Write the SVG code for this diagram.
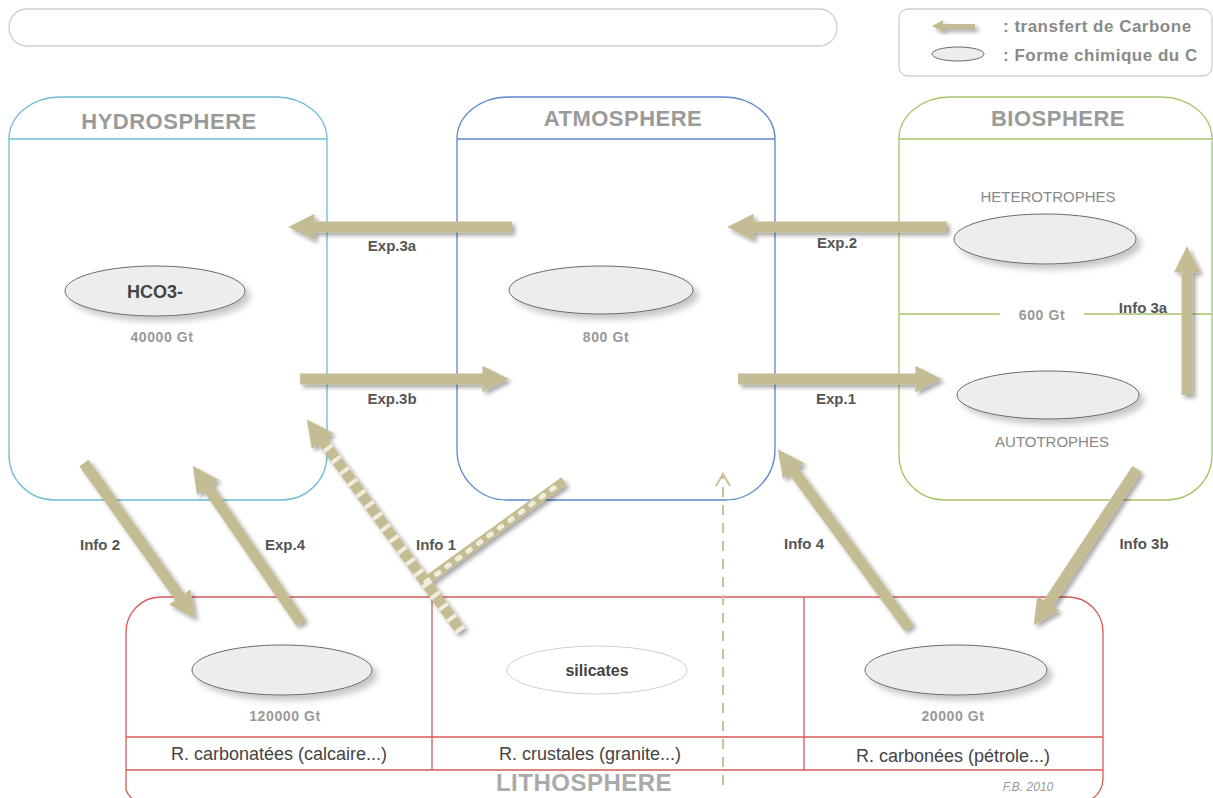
<svg xmlns="http://www.w3.org/2000/svg" width="1213" height="798" viewBox="0 0 1213 798">
<defs>
<style>
.box{fill:none;stroke-width:1.3}
.title{font-family:"Liberation Sans",Arial,sans-serif;font-weight:bold;font-size:22px;fill:#9a9a9a;text-anchor:middle;letter-spacing:0.5px}
.lbl{font-family:"Liberation Sans",Arial,sans-serif;font-weight:bold;font-size:15px;fill:#555;text-anchor:middle}
.gt{font-family:"Liberation Sans",Arial,sans-serif;font-weight:bold;font-size:14px;fill:#999;text-anchor:middle;letter-spacing:0.6px}
.cap{font-family:"Liberation Sans",Arial,sans-serif;font-size:15px;fill:#888;text-anchor:middle}
.rk{font-family:"Liberation Sans",Arial,sans-serif;font-size:18px;fill:#444;text-anchor:middle}
.leg{font-family:"Liberation Sans",Arial,sans-serif;font-weight:bold;font-size:17px;fill:#8a8a8a;letter-spacing:0.5px}
.ell{fill:#ededed;stroke:#6a6a6a;stroke-width:1}
.arr{stroke:#c4bd93;stroke-width:11;fill:none}
</style>
<filter id="sh" x="-20%" y="-20%" width="140%" height="140%">
<feDropShadow dx="3" dy="3" stdDeviation="2" flood-color="#000" flood-opacity="0.35"/>
</filter>
<filter id="esh" x="-20%" y="-40%" width="140%" height="180%">
<feDropShadow dx="5" dy="5" stdDeviation="3" flood-color="#000" flood-opacity="0.22"/>
</filter>
<marker id="head" viewBox="0 0 10 10" refX="0.6" refY="5" markerWidth="2.6" markerHeight="2.4" orient="auto" markerUnits="strokeWidth">
<path d="M0,0 L10,5 L0,10 Z" fill="#c4bd93"/>
</marker>
</defs>
<rect width="1213" height="798" fill="#fff"/>

<g id="titlebar">
<rect x="9" y="9" width="828" height="37" rx="18" fill="#fff" stroke="#cfcfcf" stroke-width="1.3"/>
</g>

<g id="legend">
<rect x="899" y="9" width="313" height="67" rx="9" fill="#fff" stroke="#cfcfcf" stroke-width="1.3"/>
<polygon points="932,26 943,20 943,24 975,24 975,29 943,29 943,32" fill="#c4bd93" filter="url(#sh)"/>
<ellipse cx="958" cy="54" rx="26" ry="7" class="ell"/>
<text x="1003" y="32" class="leg">: transfert de Carbone</text>
<text x="1003" y="61" class="leg">: Forme chimique du C</text>
</g>

<g id="hydrosphere">
<path class="box" stroke="#6cbcd4" d="M9,139 A51,42 0 0 1 60,97 L276,97 A51,42 0 0 1 327,139 L327,455 A45,45 0 0 1 282,500 L54,500 A45,45 0 0 1 9,455 Z M9,139 H327"/>
<text x="169" y="129" class="title">HYDROSPHERE</text>
<ellipse cx="155" cy="291" rx="90" ry="25" class="ell" filter="url(#esh)"/>
<text x="155" y="298" class="lbl" style="font-size:18px;fill:#444">HCO3-</text>
<text x="162" y="342" class="gt">40000 Gt</text>
</g>

<g id="atmosphere">
<path class="box" stroke="#5a89c8" d="M457,139 A51,42 0 0 1 508,97 L724,97 A51,42 0 0 1 775,139 L775,450 A50,50 0 0 1 725,500 L507,500 A50,50 0 0 1 457,450 Z M457,139 H775"/>
<text x="623" y="126" class="title">ATMOSPHERE</text>
<ellipse cx="601" cy="290" rx="92" ry="24" class="ell" filter="url(#esh)"/>
<text x="606" y="342" class="gt">800 Gt</text>
</g>

<g id="biosphere">
<path class="box" stroke="#a5c56b" d="M899,139 A51,42 0 0 1 950,97 L1161,97 A51,42 0 0 1 1212,139 L1212,455 A45,45 0 0 1 1167,500 L944,500 A45,45 0 0 1 899,455 Z M899,139 H1212 M899,314 H1000 M1084,314 H1212"/>
<text x="1058" y="126" class="title">BIOSPHERE</text>
<text x="1048" y="202" class="cap">HETEROTROPHES</text>
<ellipse cx="1045" cy="239" rx="91" ry="25" class="ell" filter="url(#esh)"/>
<text x="1042" y="320" class="gt">600 Gt</text>
<ellipse cx="1048" cy="395" rx="91" ry="24" class="ell" filter="url(#esh)"/>
<text x="1052" y="447" class="cap">AUTOTROPHES</text>
</g>

<g id="lithosphere">
<path class="box" stroke="#d55a5a" d="M126,790 L126,632 A35,35 0 0 1 161,597 L1068,597 A35,35 0 0 1 1103,632 L1103,780 A25,25 0 0 1 1090,800 M126,790 A20,20 0 0 0 134,800 M126,737 H1103 M126,770 H1103 M432,597 V770 M804,597 V770"/>
<ellipse cx="282" cy="670" rx="90" ry="25" class="ell" filter="url(#esh)"/>
<text x="285" y="721" class="gt">120000 Gt</text>
<ellipse cx="597" cy="670" rx="90" ry="24" fill="#fff" stroke="#cfcfcf" stroke-width="1"/>
<text x="597" y="676" class="lbl" style="font-size:16px;fill:#444">silicates</text>
<ellipse cx="956" cy="670" rx="91" ry="25" class="ell" filter="url(#esh)"/>
<text x="953" y="721" class="gt">20000 Gt</text>
<text x="279" y="760" class="rk">R. carbonatées (calcaire...)</text>
<text x="590" y="760" class="rk">R. crustales (granite...)</text>
<text x="953" y="762" class="rk">R. carbonées (pétrole...)</text>
<text x="584" y="791" class="title" style="font-size:24px;fill:#aaa">LITHOSPHERE</text>
<text x="1028" y="791" style="font-family:'Liberation Sans',Arial,sans-serif;font-style:italic;font-size:12px;fill:#999;text-anchor:middle">F.B. 2010</text>
</g>

<g id="connectors">
<g filter="url(#sh)">
<line class="arr" x1="512" y1="227" x2="313" y2="227" marker-end="url(#head)"/>
<line class="arr" x1="300" y1="379" x2="484" y2="379" marker-end="url(#head)"/>
<line class="arr" x1="947" y1="227" x2="752" y2="227" marker-end="url(#head)"/>
<line class="arr" x1="738" y1="379" x2="917" y2="379" marker-end="url(#head)"/>
<line class="arr" x1="1187" y1="395" x2="1187" y2="271" marker-end="url(#head)"/>
<line class="arr" x1="1137" y1="469" x2="1047.4" y2="604.6" marker-end="url(#head)"/>
<line class="arr" x1="909" y1="628" x2="792.6" y2="469.6" marker-end="url(#head)"/>
<line class="arr" x1="84" y1="463" x2="180.7" y2="598.2" marker-end="url(#head)"/>
<line class="arr" x1="301" y1="623" x2="206.9" y2="486.1" marker-end="url(#head)"/>
<line class="arr" x1="461" y1="631" x2="321.5" y2="439.6" marker-end="url(#head)"/>
<line class="arr" style="stroke-width:9" x1="422" y1="584" x2="564" y2="481"/>
</g>
<line x1="461" y1="631" x2="321.5" y2="439.6" stroke="#f1ecdc" stroke-width="11" stroke-dasharray="4 10"/>
<line x1="426" y1="582" x2="562" y2="482" stroke="#f1ecdc" stroke-width="5" stroke-dasharray="3 10" stroke-linecap="round"/>
<line x1="723" y1="785" x2="723" y2="476" stroke="#cdbf98" stroke-width="2" stroke-dasharray="10 8"/>
<polyline points="716,486 723,474 730,486" fill="none" stroke="#cdbf98" stroke-width="2"/>
<text x="392" y="251" class="lbl">Exp.3a</text>
<text x="392" y="404" class="lbl">Exp.3b</text>
<text x="837" y="248" class="lbl">Exp.2</text>
<text x="836" y="404" class="lbl">Exp.1</text>
<text x="1143" y="313" class="lbl">Info 3a</text>
<text x="100" y="550" class="lbl">Info 2</text>
<text x="285" y="550" class="lbl">Exp.4</text>
<text x="436" y="550" class="lbl">Info 1</text>
<text x="804" y="549" class="lbl">Info 4</text>
<text x="1144" y="549" class="lbl">Info 3b</text>
</g>
</svg>
